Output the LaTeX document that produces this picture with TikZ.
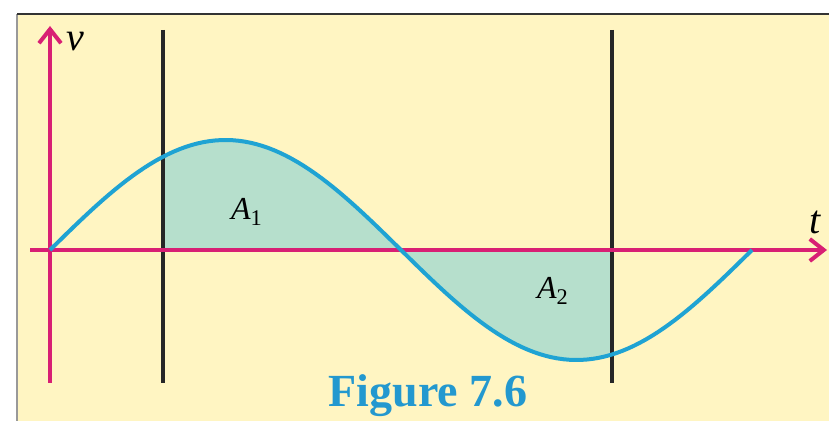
\documentclass[tikz,border=0pt]{standalone}
\usepackage{fontspec}
\setmainfont{Liberation Serif}
\definecolor{paperyellow}{HTML}{FFF5C2}
\definecolor{areateal}{HTML}{B6DFCC}
\definecolor{wavecyan}{HTML}{1FA3D3}
\definecolor{axismagenta}{HTML}{D81F74}
\definecolor{captionblue}{HTML}{2398CF}
\usetikzlibrary{arrows.meta, positioning, calc}

\begin{document}
\begin{tikzpicture}[x=0.5pt, y=-0.5pt, >={Straight Barb[length=7pt, width=11pt, line width=2pt]},
    axis/.style={draw=axismagenta, line width=2.4pt},
    marker/.style={draw=black!85, line width=1.7pt},
    lbl/.style={font=\fontsize{20}{22}\selectfont\itshape, inner sep=1pt},
    arealbl/.style={font=\fontsize{16}{18}\selectfont\itshape, inner sep=1pt}]
  \useasboundingbox (0,0) rectangle (829,421);
  % paper
  \fill[paperyellow] (17,14) rectangle (829,421);
  \draw[black!40, line width=0.8pt] (17,421) -- (17,14);
  \draw[black!80, line width=1.3pt] (17,14) -- (829,14);
  % shaded areas
  \fill[areateal] (163,250) -- plot[domain=163:612, samples=80] (\x, {250-110*sin((\x-50)/351*180)}) -- (612,250) -- cycle;
  % coordinates
  \coordinate (vbot) at (50,383);
  \coordinate (vtop) at (50,26);
  \coordinate (tleft) at (30,250);
  \coordinate (tright) at (827,250);
  \coordinate (m1top) at (163,30);
  \coordinate (m1bot) at (163,383);
  \coordinate (m2top) at (612,30);
  \coordinate (m2bot) at (612,383);
  % markers
  \draw[marker] (m1top) -- (m1bot);
  \draw[marker] (m2top) -- (m2bot);
  % axes
  \draw[axis, ->] (vbot) -- (vtop);
  \draw[axis, ->] (tleft) -- (tright);
  % wave
  \draw[wavecyan, line width=2pt] plot[domain=50:752, samples=120] (\x, {250-110*sin((\x-50)/351*180)});
  % labels
  \node[lbl, right=7pt of vtop, anchor=north west, yshift=-2pt] (vlabel) {v};
  \node[lbl] (tlabel) at (815,222) {t};
  \node[arealbl] (aone) at (247,212) {A\textsubscript{\upshape 1}};
  \node[arealbl] (atwo) at (553,291) {A\textsubscript{\upshape 2}};
  \node[font=\fontsize{23}{25}\selectfont\bfseries, text=captionblue] (caption) at (428,396) {Figure 7.6};
\end{tikzpicture}
\end{document}
